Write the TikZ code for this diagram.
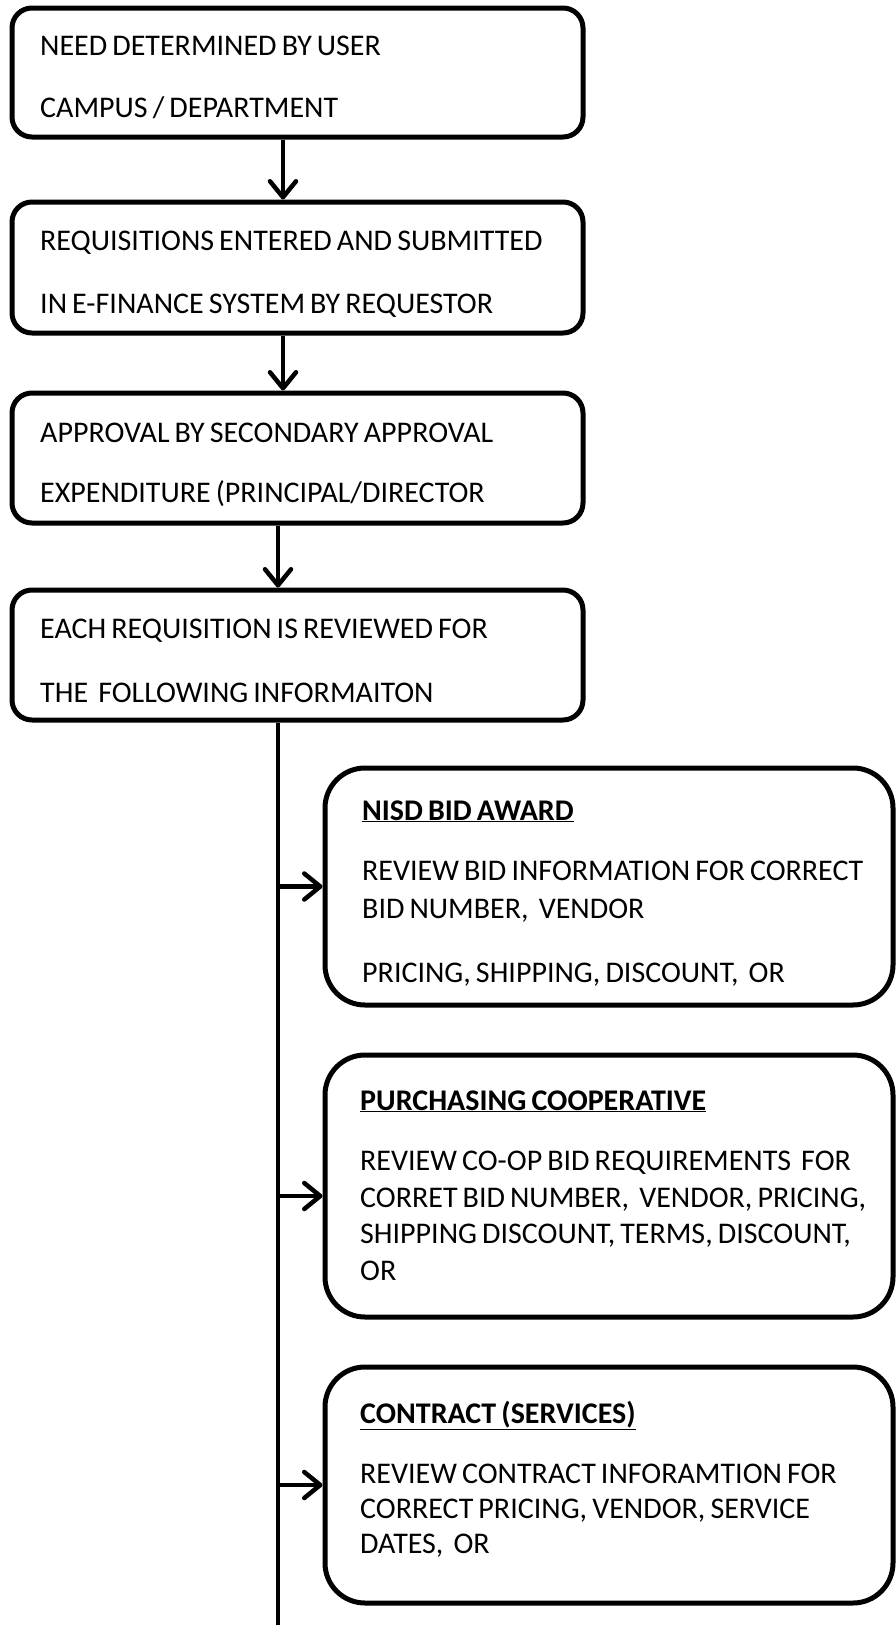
\documentclass[tikz,border=0pt]{standalone}
\usepackage{fontspec}
\setmainfont[WordSpace=0.75]{Carlito}
\usetikzlibrary{arrows.meta}
\tikzset{
  stepbox/.style={draw, line width=5pt, rounded corners=20pt, minimum width=571pt, minimum height=130pt, inner sep=0pt},
  optbox/.style={draw, line width=5pt, rounded corners=40pt, minimum width=568pt, inner sep=0pt},
  txt/.style={anchor=base west, inner sep=0pt, font=\fontsize{30}{32}\selectfont},
  arr/.style={line width=4.5pt, -{Straight Barb[length=16pt,width=26pt,round]}}
}

\begin{document}
\begin{tikzpicture}[x=1pt, y=-1pt]
    \useasboundingbox (0,0) rectangle (896,1625);

    %Cajas de la parte superior
    \node[stepbox, minimum height=129pt] (need) at (297.5,72.5) {};
    \node[stepbox, minimum height=131pt] (req) at (297.5,267.5) {};
    \node[stepbox] (appr) at (297.5,458) {};
    \node[stepbox] (rev) at (297.5,655) {};

    \node[txt] (need1) at (40,55) {NEED DETERMINED BY USER};
    \node[txt] (need2) at (40,117) {CAMPUS / DEPARTMENT};
    \node[txt] (req1) at (40,250) {REQUISITIONS ENTERED AND SUBMITTED};
    \node[txt] (req2) at (40,313) {IN E-FINANCE SYSTEM BY REQUESTOR};
    \node[txt] (appr1) at (40,442) {APPROVAL BY SECONDARY APPROVAL};
    \node[txt] (appr2) at (40,502) {EXPENDITURE (PRINCIPAL/DIRECTOR};
    \node[txt] (rev1) at (40,638) {EACH REQUISITION IS REVIEWED FOR};
    \node[txt] (rev2) at (40,702) {THE\ \ FOLLOWING INFORMAITON};

    %Flechas entre las cajas
    \draw[arr] ([xshift=-14.5pt]need.south) -- ([xshift=-14.5pt]req.north);
    \draw[arr] ([xshift=-14.5pt]req.south) -- ([xshift=-14.5pt]appr.north);
    \draw[arr] ([xshift=-19.5pt]appr.south) -- ([xshift=-19.5pt]rev.north);

    %Cajas de la derecha
    \node[optbox, minimum height=237pt] (bid) at (609,886.5) {};
    \node[optbox, minimum height=262pt] (coop) at (609,1186) {};
    \node[optbox, minimum height=236pt] (contract) at (609,1485) {};

    \node[txt] (bid0) at (362,820) {\textbf{\underline{NISD BID AWARD}}};
    \node[txt] (bid1) at (362,880) {REVIEW BID INFORMATION FOR CORRECT};
    \node[txt] (bid2) at (362,918) {BID NUMBER,\ \ VENDOR};
    \node[txt] (bid3) at (362,982) {PRICING, SHIPPING, DISCOUNT,\ \ OR};

    \node[txt] (coop0) at (360,1110) {\textbf{\underline{PURCHASING COOPERATIVE}}};
    \node[txt] (coop1) at (360,1170) {REVIEW CO-OP BID REQUIREMENTS\ \ FOR};
    \node[txt] (coop2) at (360,1207) {CORRET BID NUMBER,\ \ VENDOR, PRICING,};
    \node[txt] (coop3) at (360,1243) {SHIPPING DISCOUNT, TERMS, DISCOUNT,};
    \node[txt] (coop4) at (360,1280) {OR};

    \node[txt] (con0) at (360,1423) {\textbf{\underline{CONTRACT (SERVICES)}}};
    \node[txt] (con1) at (360,1483) {REVIEW CONTRACT INFORAMTION FOR};
    \node[txt] (con2) at (360,1518) {CORRECT PRICING, VENDOR, SERVICE};
    \node[txt] (con3) at (360,1553) {DATES,\ \ OR};

    %Linea vertical y ramas
    \coordinate (trunkend) at (278,1625);
    \coordinate (coopin) at ([yshift=-10pt]coop.west);
    \draw[line width=4.5pt] ([xshift=-19.5pt]rev.south) -- (trunkend);
    \draw[arr] (trunkend |- bid.west) -- (bid.west);
    \draw[arr] (trunkend |- coopin) -- (coopin);
    \draw[arr] (trunkend |- contract.west) -- (contract.west);
\end{tikzpicture}
\end{document}
